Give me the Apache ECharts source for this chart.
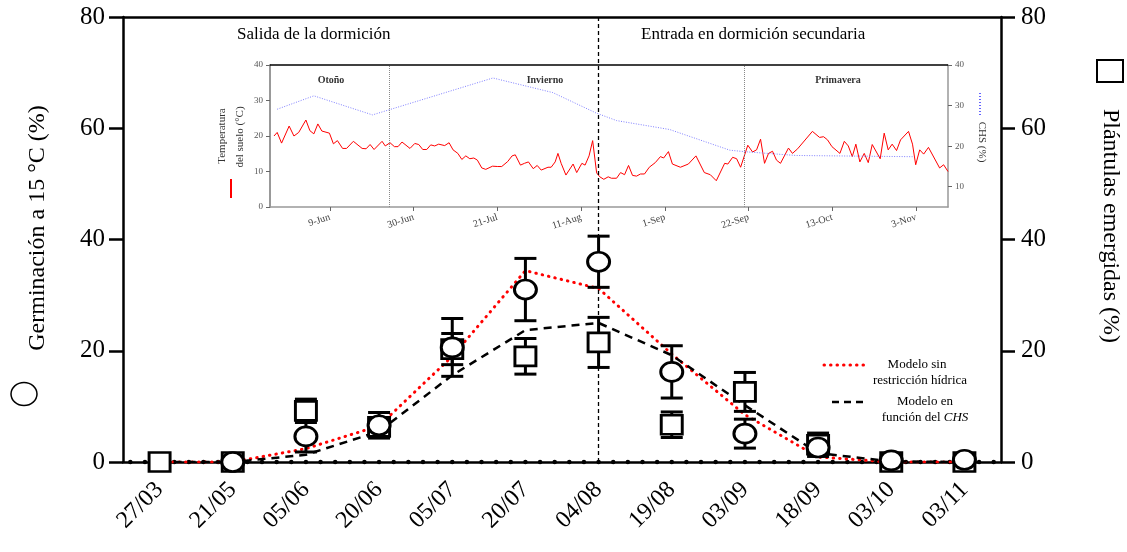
<!DOCTYPE html>
<html>
<head>
<meta charset="utf-8">
<script src="https://cdn.jsdelivr.net/npm/echarts@6/dist/echarts.min.js"></script>
<style>
html,body{margin:0;padding:0;background:#fff;}
#chart{width:1127px;height:552px;}
</style>
</head>
<body>
<div id="chart"></div>
<script>
// ---------------- Data ----------------
const categories = ['27/03','21/05','05/06','20/06','05/07','20/07','04/08','19/08','03/09','18/09','03/10','03/11'];
const yTicks = [0, 20, 40, 60, 80];

// Germinación a 15 °C (%) – circles (left axis)
const germination    = [null, 0, 4.6, 6.6, 20.6, 31.0, 36.0, 16.2, 5.1, 2.6, 0.3, 0.4];
const germinationErr = [null, 0, 2.8, 2.3, 5.2, 5.6, 4.6, 4.7, 2.6, 0, 0, 0];

// Plántulas emergidas (%) – squares (right axis)
const emergence    = [0, 0, 9.2, 6.3, 20.3, 19.0, 21.5, 6.7, 12.6, 3.1, 0, 0];
const emergenceErr = [0, 0, 2.1, 1.6, 2.8, 3.2, 4.5, 2.3, 3.5, 2.1, 0, 0];

// Models
const modelNoRestriction = [0, 0, 2.4, 6.5, 19.0, 34.4, 31.2, 19.4, 8.5, 0.9, 0, 0];
const modelCHS           = [0, 0, 1.3, 5.5, 15.6, 23.7, 25.0, 19.2, 10.2, 1.6, 0.1, 0];

// Inset: days counted from 19-May
const insetTickDays   = [21, 42, 63, 84, 105, 126, 147, 168];
const insetTickLabels = ['9-Jun','30-Jun','21-Jul','11-Aug','1-Sep','22-Sep','13-Oct','3-Nov'];
const seasonBoundaryDays = [36, 125];
const seasonNames = ['Otoño', 'Invierno', 'Primavera'];

const tempDays = [7.0,7.8,8.9,10.8,12.0,13.2,15.0,16,17,18,19,20.9,21.9,22.9,24.2,25.2,26.9,29.1,30.1,31.1,32.1,34.1,34.9,36.1,37.2,38.1,39.1,41.1,42.3,43.3,44.3,45.3,46.3,47.3,48.3,49.8,50.9,51.9,53.1,54.1,55.1,56.1,57.1,58,59.1,60.1,61.8,63.1,64.1,65.6,66.7,67.5,68.8,69.8,70.8,72,73,74,75.7,76.5,77.5,78.2,79,80.2,82,82.9,84.2,85,86,86.9,87.9,88.7,89.7,90.8,91.6,92.9,93.9,94.9,95.9,96.9,97.9,98.9,99.9,101.1,102.6,103.9,104.7,105.9,106.9,108.9,110.9,112.8,114.9,116.4,117.9,120,120.8,122,123,124,125.8,127,128,129,130,131,132,133,134,136,137,138.3,142,143.8,144.8,145.8,146.9,148.9,150,151,152,152.9,153.9,155,156,157,159,160,161,162,163.1,164.1,166.1,167.1,167.9,168.9,169.9,171.1,173.9,174.9,176];
const tempValues = [20.0,21.0,18.0,22.8,20.0,21.0,24.5,21.5,20.6,23.4,21.4,20.8,17.8,18.7,16.5,16.5,18.5,16.5,16.4,17.6,16.2,18.5,17.2,18.1,17.0,17.0,18.3,16.5,17.9,17.6,16.2,16.2,17.5,17.2,17.7,17.3,18.1,16.1,15.1,13.4,14.4,13.6,13.8,13.2,11.0,10.6,11.5,11.4,11.4,12.8,14.4,14.7,11.8,12.3,12.7,10.8,11.7,10.4,11.2,11.2,12.7,15.1,12.3,9.0,12.1,9.7,12.3,11.8,14.4,18.7,9.6,8.5,7.8,8.5,8.1,8.1,9.7,9.1,11.7,8.9,8.7,9.3,9.3,11.2,12.5,14.2,13.8,15.6,12.1,11.2,12.1,14.4,9.7,9.1,7.4,12.3,12.1,14.0,13.6,11.2,17.4,15.5,16.1,19.1,12.3,15.1,15.7,13.2,12.3,16.6,15.1,16.4,21.3,19.6,19.8,18.9,17.0,15.1,18.5,17.2,14.2,17.7,12.7,15.1,12.5,17.6,13.6,20.8,16.1,17.7,15.9,18.9,21.3,17.7,11.9,16.1,14.9,16.8,11.0,11.9,10.0];

const chsDays   = [7.8, 17, 31.7, 61.9, 76.9, 87.7, 92.9, 106.2, 121.3, 125.4, 137.9, 167.1];
const chsValues = [29.1, 32.4, 27.7, 36.8, 33.2, 28.2, 26.3, 24.1, 19.0, 18.6, 17.7, 17.4];

// ---------------- Helpers ----------------
const SERIF = 'Liberation Serif';
const pairs = (xs, ys) => xs.map((x, i) => [x, ys[i]]);
const withIdx = (vals, errs) => vals.map((v, i) => [i, v, errs ? errs[i] : 0]);

function renderErr(params, api) {
  const x = api.value(0), y = api.value(1), e = api.value(2);
  if (y == null || isNaN(y) || !e || isNaN(e) || e <= 0) return null;
  const top = api.coord([x, y + e]);
  const bot = api.coord([x, y - e]);
  const w = 11;
  const st = { stroke: '#000', lineWidth: 3 };
  return { type: 'group', children: [
    { type: 'line', shape: { x1: top[0], y1: top[1], x2: bot[0], y2: bot[1] }, style: st },
    { type: 'line', shape: { x1: top[0] - w, y1: top[1], x2: top[0] + w, y2: top[1] }, style: st },
    { type: 'line', shape: { x1: bot[0] - w, y1: bot[1], x2: bot[0] + w, y2: bot[1] }, style: st }
  ]};
}

// axis decoration dots (every fifth of a category)
const axisDots = [];
for (let k = -2; k <= 57; k++) axisDots.push([k / 5, 0]);

const chart = echarts.init(document.getElementById('chart'), null, { renderer: 'canvas' });

const mainAxisLabel = { fontFamily: SERIF, fontSize: 25, color: '#000' };
const insetLabel = { fontFamily: SERIF, fontSize: 9, color: '#555' };

const option = {
  animation: false,
  backgroundColor: '#fff',
  grid: [
    { left: 123, right: 126, top: 17, bottom: 90, show: false },
    { left: 270, top: 65, width: 678, height: 142, show: false }
  ],
  xAxis: [
    { type: 'category', gridIndex: 0, data: categories, boundaryGap: true,
      axisLine: { onZero: false, lineStyle: { color: '#000', width: 2.5 } },
      axisTick: { alignWithLabel: true, length: 11, lineStyle: { color: '#000', width: 2.5 } },
      axisLabel: { fontFamily: SERIF, fontSize: 24, color: '#000', rotate: 45, margin: 24 },
      splitLine: { show: false } },
    { type: 'value', gridIndex: 0, min: -0.5, max: 11.5, show: false },
    { type: 'value', gridIndex: 1, min: 6, max: 176,
      axisLine: { onZero: false, lineStyle: { color: '#999', width: 1.5 } },
      axisTick: { customValues: insetTickDays, length: 4, lineStyle: { color: '#666', width: 1 } },
      axisLabel: { customValues: insetTickDays, fontFamily: SERIF, fontSize: 10, color: '#444', rotate: 18, margin: 10,
        formatter: v => { const i = insetTickDays.indexOf(v); return i >= 0 ? insetTickLabels[i] : ''; } },
      splitLine: { show: false } }
  ],
  yAxis: [
    { type: 'value', gridIndex: 0, min: yTicks[0], max: yTicks[yTicks.length - 1], interval: 20,
      axisLine: { show: true, onZero: false, lineStyle: { color: '#000', width: 2.5 } },
      axisTick: { show: true, length: 14, lineStyle: { color: '#000', width: 2.5 } },
      axisLabel: Object.assign({ margin: 18 }, mainAxisLabel),
      splitLine: { show: false } },
    { type: 'value', gridIndex: 0, position: 'right', min: yTicks[0], max: yTicks[yTicks.length - 1], interval: 20,
      axisLine: { show: true, onZero: false, lineStyle: { color: '#000', width: 2.5 } },
      axisTick: { show: true, length: 14, lineStyle: { color: '#000', width: 2.5 } },
      axisLabel: Object.assign({ margin: 20 }, mainAxisLabel),
      splitLine: { show: false } },
    { type: 'value', gridIndex: 1, min: 0, max: 40, interval: 10,
      axisLine: { show: true, onZero: false, lineStyle: { color: '#999', width: 2 } },
      axisTick: { show: true, length: 4, lineStyle: { color: '#666' } },
      axisLabel: Object.assign({ margin: 7 }, insetLabel),
      splitLine: { show: false } },
    { type: 'value', gridIndex: 1, position: 'right', min: 5, max: 40,
      axisLine: { show: true, onZero: false, lineStyle: { color: '#999', width: 1.5 } },
      axisTick: { show: true, customValues: [10, 20, 30, 40], length: 4, lineStyle: { color: '#666' } },
      axisLabel: Object.assign({ customValues: [10, 20, 30, 40], margin: 7 }, insetLabel),
      splitLine: { show: false } }
  ],
  series: [
    // top frame of the main plot
    { type: 'line', xAxisIndex: 0, yAxisIndex: 0, data: [], silent: true,
      markLine: { silent: true, symbol: 'none', label: { show: false },
        lineStyle: { color: '#000', width: 2.5, type: 'solid' },
        data: [{ yAxis: 80 }] } },
    // axis dots
    { type: 'scatter', xAxisIndex: 1, yAxisIndex: 0, data: axisDots, symbol: 'circle', symbolSize: 4.5,
      itemStyle: { color: '#000', opacity: 1 }, silent: true, z: 3 },
    // models
    { name: 'Modelo sin restricción hídrica', type: 'line', xAxisIndex: 0, yAxisIndex: 0,
      data: modelNoRestriction, showSymbol: false, symbol: 'none',
      lineStyle: { color: '#ff0000', width: 3, type: [0.5, 6], cap: 'round' }, z: 4 },
    { name: 'Modelo en función del CHS', type: 'line', xAxisIndex: 0, yAxisIndex: 0,
      data: modelCHS, showSymbol: false, symbol: 'none',
      lineStyle: { color: '#000', width: 2.5, type: [8, 6] }, z: 4 },
    // error bars
    { type: 'custom', xAxisIndex: 0, yAxisIndex: 1, data: withIdx(emergence, emergenceErr), renderItem: renderErr, z: 5, silent: true },
    { type: 'custom', xAxisIndex: 0, yAxisIndex: 0, data: withIdx(germination, germinationErr), renderItem: renderErr, z: 5, silent: true },
    // squares
    { name: 'Plántulas emergidas', type: 'scatter', xAxisIndex: 0, yAxisIndex: 1, data: withIdx(emergence).map(d => [d[0], d[1]]),
      symbol: 'rect', symbolSize: [21, 19], itemStyle: { color: '#fff', borderColor: '#000', borderWidth: 2.8, opacity: 1 }, z: 6 },
    // circles
    { name: 'Germinación a 15 °C', type: 'scatter', xAxisIndex: 0, yAxisIndex: 0,
      data: withIdx(germination).filter(d => d[1] != null).map(d => [d[0], d[1]]),
      symbol: 'circle', symbolSize: [22, 19], itemStyle: { color: '#fff', borderColor: '#000', borderWidth: 2.8, opacity: 1 }, z: 7,
      markLine: { silent: true, symbol: 'none', label: { show: false },
        lineStyle: { color: '#000', width: 1.3, type: [4, 3] },
        data: [{ xAxis: '04/08' }] } },
    // inset: temperature
    { name: 'Temperatura del suelo', type: 'line', xAxisIndex: 2, yAxisIndex: 2, data: pairs(tempDays, tempValues),
      showSymbol: false, symbol: 'none', lineStyle: { color: '#ff0000', width: 1 }, z: 2,
      markLine: { silent: true, symbol: 'none', label: { show: false },
        data: [
          { yAxis: 40, lineStyle: { color: '#000', width: 1.5, type: 'solid' } },
          { xAxis: seasonBoundaryDays[0], lineStyle: { color: '#888', width: 1, type: [1, 1] } },
          { xAxis: seasonBoundaryDays[1], lineStyle: { color: '#888', width: 1, type: [1, 1] } }
        ] } },
    // inset: CHS
    { name: 'CHS', type: 'line', xAxisIndex: 2, yAxisIndex: 3, data: pairs(chsDays, chsValues),
      showSymbol: false, symbol: 'none', lineStyle: { color: '#8080ff', width: 1, type: [1, 1.5] }, z: 2 }
  ],
  graphic: [
    // top phase labels
    { type: 'text', left: 237, top: 26, style: { text: 'Salida de la dormición', font: '17px ' + SERIF, fill: '#000' } },
    { type: 'text', left: 641, top: 26, style: { text: 'Entrada en dormición secundaria', font: '17px ' + SERIF, fill: '#000' } },
    // season labels
    { type: 'text', x: 331, y: 80, style: { text: seasonNames[0], font: 'bold 10px ' + SERIF, fill: '#333', align: 'center', verticalAlign: 'middle' } },
    { type: 'text', x: 545, y: 80, style: { text: seasonNames[1], font: 'bold 10px ' + SERIF, fill: '#333', align: 'center', verticalAlign: 'middle' } },
    { type: 'text', x: 838, y: 80, style: { text: seasonNames[2], font: 'bold 10px ' + SERIF, fill: '#333', align: 'center', verticalAlign: 'middle' } },
    // inset axis names
    { type: 'text', x: 222, y: 136, rotation: Math.PI / 2, style: { text: 'Temperatura', font: '11px ' + SERIF, fill: '#333', align: 'center', verticalAlign: 'middle' } },
    { type: 'text', x: 240, y: 137, rotation: Math.PI / 2, style: { text: 'del suelo (°C)', font: '11px ' + SERIF, fill: '#333', align: 'center', verticalAlign: 'middle' } },
    { type: 'line', shape: { x1: 231, y1: 179, x2: 231, y2: 198 }, style: { stroke: '#ff0000', lineWidth: 2 } },
    { type: 'text', x: 982, y: 142, rotation: -Math.PI / 2, style: { text: 'CHS (%)', font: '11px ' + SERIF, fill: '#333', align: 'center', verticalAlign: 'middle' } },
    { type: 'line', shape: { x1: 980, y1: 93, x2: 980, y2: 115 }, style: { stroke: '#3030ff', lineWidth: 1.5, lineDash: [1, 2] } },
    // main axis titles
    { type: 'text', x: 38, y: 228, rotation: Math.PI / 2, style: { text: 'Germinación a 15 °C (%)', font: '24px ' + SERIF, fill: '#000', align: 'center', verticalAlign: 'middle' } },
    { type: 'ellipse', shape: { cx: 24, cy: 394, rx: 13, ry: 11.5 }, style: { fill: 'none', stroke: '#000', lineWidth: 1.5 } },
    { type: 'text', x: 1110, y: 226, rotation: -Math.PI / 2, style: { text: 'Plántulas emergidas (%)', font: '24px ' + SERIF, fill: '#000', align: 'center', verticalAlign: 'middle' } },
    { type: 'rect', shape: { x: 1097, y: 60, width: 26, height: 22 }, style: { fill: 'none', stroke: '#000', lineWidth: 2 } },
    // legend
    { type: 'line', shape: { x1: 824, y1: 365, x2: 864, y2: 365 }, style: { stroke: '#ff0000', lineWidth: 3, lineDash: [0.5, 6], lineCap: 'round' } },
    { type: 'text', x: 917, y: 365, style: { text: 'Modelo sin', font: '13px ' + SERIF, fill: '#000', align: 'center', verticalAlign: 'middle' } },
    { type: 'text', x: 920, y: 381, style: { text: 'restricción hídrica', font: '13px ' + SERIF, fill: '#000', align: 'center', verticalAlign: 'middle' } },
    { type: 'line', shape: { x1: 832, y1: 402, x2: 864, y2: 402 }, style: { stroke: '#000', lineWidth: 2.5, lineDash: [7, 5] } },
    { type: 'text', x: 925, y: 402, style: { text: 'Modelo en', font: '13px ' + SERIF, fill: '#000', align: 'center', verticalAlign: 'middle' } },
    { type: 'text', x: 925, y: 418, style: { text: 'función del {i|CHS}', font: '13px ' + SERIF, fill: '#000', align: 'center', verticalAlign: 'middle',
      rich: { i: { fontStyle: 'italic', fontFamily: SERIF, fontSize: 13, fill: '#000' } } } }
  ]
};
chart.setOption(option);
</script>
</body>
</html>
